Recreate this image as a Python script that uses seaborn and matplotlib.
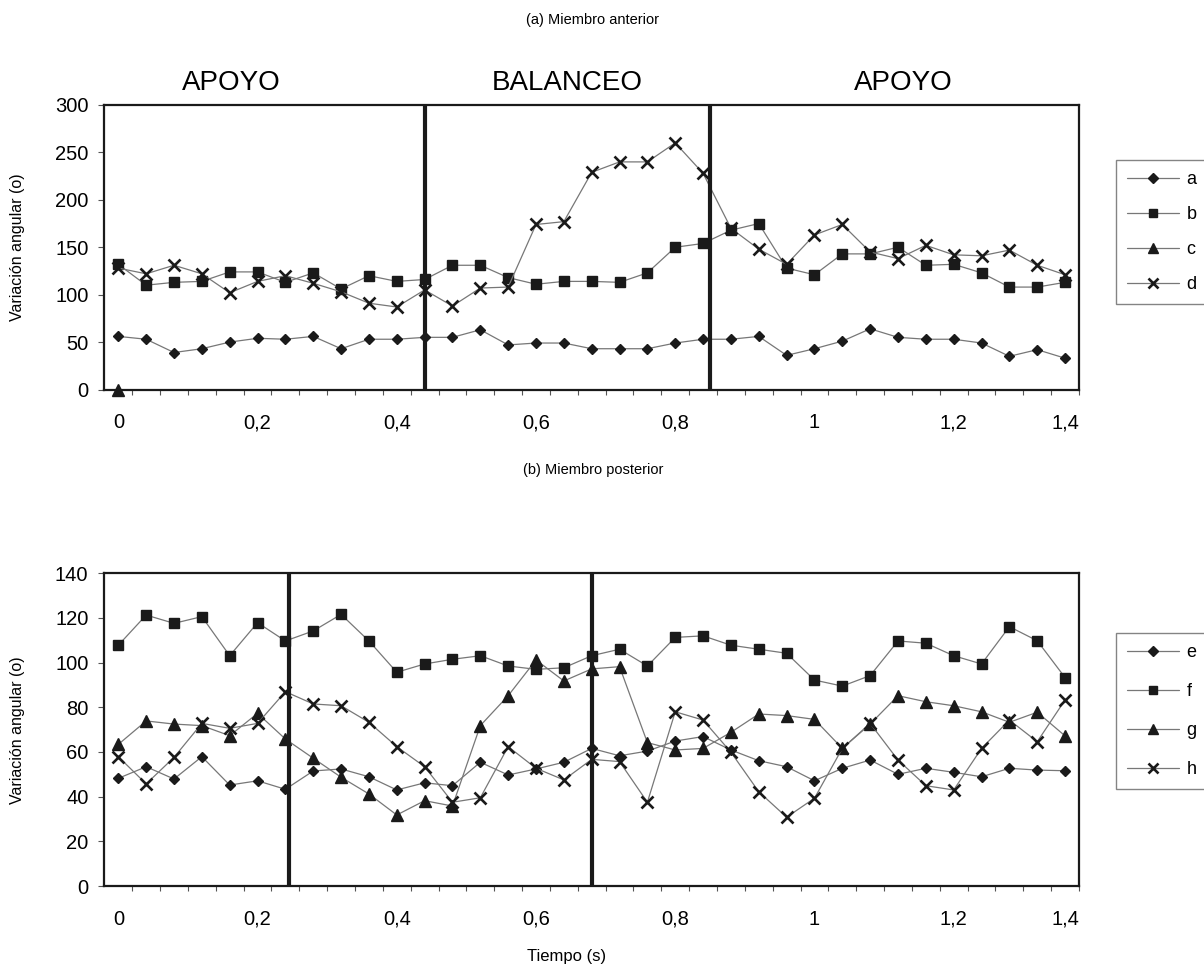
import matplotlib
matplotlib.use("Agg")
import matplotlib.pyplot as plt
import seaborn as sns
from matplotlib.lines import Line2D

sns.set_theme(style="white")
plt.rcParams['font.family'] = ['Liberation Sans', 'DejaVu Sans']
plt.rcParams.update({'text.color': 'black', 'axes.labelcolor': 'black',
                     'xtick.color': 'black', 'ytick.color': 'black'})

# Tiempo de cada fotograma (s)
tiempo = [0.00, 0.04, 0.08, 0.12, 0.16, 0.20, 0.24, 0.28, 0.32, 0.36,
          0.40, 0.44, 0.48, 0.52, 0.56, 0.60, 0.64, 0.68, 0.72, 0.76,
          0.80, 0.84, 0.88, 0.92, 0.96, 1.00, 1.04, 1.08, 1.12, 1.16,
          1.20, 1.24, 1.28, 1.32, 1.36]

nan = float('nan')

# (a) Miembro anterior
serie_a = [56, 53, 39, 43, 50, 54, 53, 56, 43, 53, 53, 55,
           55, 63, 47, 49, 49, 43, 43, 43, 49, 53,
           53, 56, 36, 43, 51, 64, 55, 53, 53, 49, 35, 42, 33]
serie_b = [132, 110, 113, 114, 124, 124, 113, 123, 106, 120, 114, 116,
           131, 131, 118, 111, 114, 114, 113, 123, 150, 154,
           168, 175, 128, 121, 143, 143, 150, 131, 132, 123, 108, 108, 113]
serie_c = [0] + [nan] * 34
serie_d = [128, 122, 131, 122, 102, 114, 120, 112, 103, 91, 87, 105,
           88, 107, 108, 174, 177, 229, 240, 240, 260, 228,
           170, 148, 132, 163, 174, 145, 138, 152, 142, 141, 147, 131, 121]

# (b) Miembro posterior
serie_e = [48.2, 53.4, 47.9, 57.9, 45.2, 47.1, 43.3, 51.5, 52.4, 48.9, 43.0, 46.2,
           44.9, 55.4, 49.7, 52.4, 55.4, 61.6, 58.3, 60.4, 64.9, 66.9,
           60.9, 56.1, 53.4, 47.1, 52.7, 56.4, 50.0, 52.7, 50.9, 48.9, 52.7, 51.9, 51.6]
serie_f = [107.8, 121.3, 117.6, 120.6, 103.1, 117.9, 109.7, 114.2, 121.6, 109.7, 95.7, 99.4,
           101.5, 103.1, 98.5, 97.0, 97.7, 103.1, 106.0, 98.5, 111.3, 112.0,
           107.8, 106.0, 104.2, 92.2, 89.5, 94.2, 109.7, 108.7, 103.1, 99.4, 116.1, 109.8, 93.3]
serie_g = [63.4, 73.9, 72.5, 71.8, 67.3, 77.3, 65.8, 57.2, 48.7, 41.2, 31.8, 38.2,
           35.8, 71.8, 85.2, 101.2, 91.8, 97.2, 98.2, 64.2, 60.9, 61.6,
           68.8, 77.0, 76.3, 74.6, 61.6, 72.5, 85.2, 82.5, 80.7, 78.0, 73.3, 77.8, 67.2]
serie_h = [57.9, 45.7, 57.6, 72.8, 70.6, 72.8, 87.0, 81.5, 80.7, 73.3, 62.4, 53.4,
           37.5, 39.5, 62.4, 52.7, 47.5, 56.7, 55.7, 37.5, 78.0, 74.3,
           59.9, 42.2, 30.8, 39.3, 61.6, 72.8, 56.4, 44.9, 43.0, 61.6, 74.3, 64.6, 83.3]

etiquetas_x = ["0", "0,2", "0,4", "0,6", "0,8", "1", "1,2", "1,4"]
pos_etiquetas_x = [0.0, 0.2, 0.4, 0.6, 0.8, 1.0, 1.2, 1.36]

fases_anterior = [0.44, 0.85]
fases_posterior = [0.245, 0.68]
nombres_fase = ["APOYO", "BALANCEO", "APOYO"]
pos_nombres_fase = [0.163, 0.645, 1.128]

# marcador, tamaño, grosor de borde
estilos = {
    'D': dict(marker='D', ms=5.4, mew=1.0),
    's': dict(marker='s', ms=7.2, mew=1.0),
    '^': dict(marker='^', ms=8.8, mew=1.0),
    'x': dict(marker='x', ms=9.0, mew=1.9),
}
gris = '#777777'

W, H = 1204, 976
fig = plt.figure(figsize=(W / 100, H / 100), dpi=100)


def ejes(left, top, right, bottom):
    return fig.add_axes([left / W, 1 - bottom / H, (right - left) / W, (bottom - top) / H])


ax1 = ejes(104.4, 105, 1079, 389.5)
ax2 = ejes(104.4, 573.3, 1079, 886)


def dibujar(ax, series, ymax, ystep, fases, labelspacing, leg_top):
    handles = []
    for nombre, valores, mk in series:
        st = estilos[mk]
        sns.lineplot(x=tiempo, y=valores, ax=ax, color=gris, lw=0.9,
                     marker=st['marker'], ms=st['ms'], mew=st['mew'],
                     mfc='k', mec='k', estimator=None, sort=False, legend=False,
                     clip_on=False, zorder=3)
        handles.append(Line2D([], [], color=gris, lw=0.9, marker=st['marker'],
                              ms=st['ms'] * 0.85, mew=st['mew'], mfc='k', mec='k',
                              label=nombre))
    for xf in fases:
        ax.axvline(xf, color='k', lw=3.0, zorder=5)
    ax.set_xlim(-0.02, 1.38)
    ax.set_ylim(0, ymax)
    ax.set_yticks(range(0, ymax + 1, ystep))
    ax.set_xticks(pos_etiquetas_x, etiquetas_x)
    ax.set_xticks([t + 0.02 for t in tiempo], minor=True)
    ax.tick_params(axis='x', which='major', length=0, pad=17, labelsize=14.5)
    ax.tick_params(axis='x', which='minor', bottom=True, length=3.5, width=0.8,
                   color='#555555', direction='out')
    ax.tick_params(axis='y', which='major', left=True, length=4.5, width=0.8,
                   color='#555555', direction='out', pad=7, labelsize=14.5)
    ax.set_xlabel('')
    ax.set_ylabel('')
    for sp in ax.spines.values():
        sp.set_color('k')
        sp.set_linewidth(1.6)
        sp.set_zorder(4)
    leg = fig.legend(handles=handles, loc='upper left',
                     bbox_to_anchor=(1116 / W, 1 - leg_top / H),
                     bbox_transform=fig.transFigure, frameon=True,
                     fontsize=13, handlelength=2.9, handletextpad=0.4,
                     labelspacing=labelspacing, borderpad=0.6, borderaxespad=0,
                     fancybox=False)
    leg.get_frame().set_edgecolor('#666666')
    leg.get_frame().set_linewidth(1.0)


dibujar(ax1, [('a', serie_a, 'D'), ('b', serie_b, 's'),
              ('c', serie_c, '^'), ('d', serie_d, 'x')],
        300, 50, fases_anterior, 1.0, 160)
dibujar(ax2, [('e', serie_e, 'D'), ('f', serie_f, 's'),
              ('g', serie_g, '^'), ('h', serie_h, 'x')],
        140, 20, fases_posterior, 1.22, 633)

for nombre, xf in zip(nombres_fase, pos_nombres_fase):
    ax1.text(xf, 1.077, nombre, transform=ax1.get_xaxis_transform(),
             ha='center', va='center', fontsize=20)

fig.text(593 / W, 1 - 20 / H, "(a) Miembro anterior", ha='center', va='center', fontsize=10.5)
fig.text(593 / W, 1 - 470 / H, "(b) Miembro posterior", ha='center', va='center', fontsize=10.5)
fig.text(567 / W, 1 - 957 / H, "Tiempo (s)", ha='center', va='center', fontsize=12)
fig.text(18 / W, 1 - 247 / H, "Variación angular (o)", ha='center', va='center',
         rotation=90, fontsize=11.5)
fig.text(18 / W, 1 - 730 / H, "Variación angular (o)", ha='center', va='center',
         rotation=90, fontsize=11.5)

fig.savefig("out.png", dpi=100)
